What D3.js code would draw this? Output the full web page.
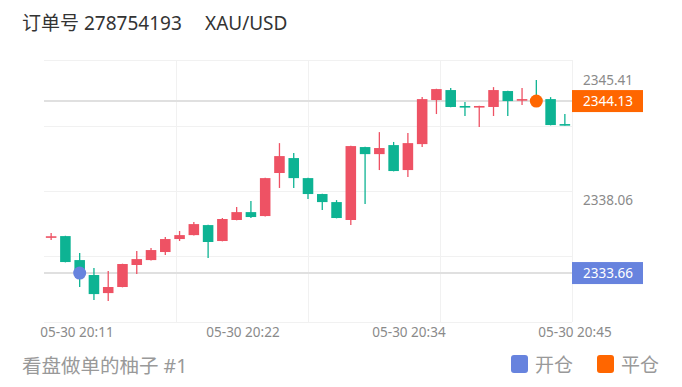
<!DOCTYPE html>
<html lang="zh">
<head>
<meta charset="UTF-8">
<title>XAU/USD</title>
<style>
  body { margin: 0; background: #fff; }
  svg text { font-family: "Noto Sans", "Noto Sans CJK SC", sans-serif; }
</style>
</head>
<body>
<svg id="chart" width="682" height="387"></svg>
<script src="https://d3js.org/d3.v7.min.js"></script>
<script>
// one-minute candles, 05-30 20:09 .. 20:45
var times = ["20:09","20:10","20:11","20:12","20:13","20:14","20:15","20:16","20:17","20:18",
             "20:19","20:20","20:21","20:22","20:23","20:24","20:25","20:26","20:27","20:28",
             "20:29","20:30","20:31","20:32","20:33","20:34","20:35","20:36","20:37","20:38",
             "20:39","20:40","20:41","20:42","20:43","20:44","20:45"];
var open  = [2335.87,2335.91,2334.45,2333.54,2332.44,2332.81,2334.15,2334.45,2334.94,2335.73,
             2335.97,2336.58,2335.61,2336.89,2337.37,2337.13,2339.75,2340.66,2339.44,2338.47,
             2337.98,2336.89,2341.33,2340.90,2341.45,2339.93,2341.51,2344.19,2344.80,2343.83,
             2343.80,2343.77,2344.74,2344.22,2344.25,2344.25,2342.73];
var close = [2335.90,2334.33,2333.54,2332.38,2332.81,2334.21,2334.51,2335.06,2335.73,2335.97,
             2336.64,2335.55,2336.95,2337.37,2337.07,2339.44,2340.78,2339.44,2338.47,2337.98,
             2337.01,2341.39,2340.90,2341.27,2339.87,2341.57,2344.25,2344.86,2343.77,2343.77,
             2343.83,2344.80,2344.13,2344.25,2344.08,2342.67,2342.67];
var high  = [2336.10,2335.93,2334.88,2333.97,2333.78,2334.23,2335.00,2335.18,2335.85,2336.22,
             2336.77,2336.60,2337.01,2337.68,2338.04,2339.46,2341.57,2340.97,2339.46,2338.49,
             2338.10,2341.41,2341.35,2342.24,2341.64,2342.18,2344.37,2344.88,2344.92,2344.07,
             2343.85,2344.98,2344.76,2344.92,2345.41,2344.37,2343.34];
var low   = [2335.67,2334.31,2332.81,2332.02,2331.96,2332.79,2333.60,2334.43,2334.76,2335.61,
             2335.95,2334.57,2335.59,2336.87,2337.01,2337.11,2338.84,2338.84,2338.17,2337.50,
             2336.99,2336.58,2337.86,2339.93,2339.85,2339.50,2341.33,2343.34,2343.75,2343.22,
             2342.55,2343.22,2343.22,2343.89,2343.90,2342.65,2342.65];

var xLabels = ["05-30 20:11","05-30 20:22","05-30 20:34","05-30 20:45"];
var yTicks = [2345.41, 2338.06];

var markerNames = ["开仓","平仓"];
var markerTimes = ["20:11","20:43"];
var markerPrices = [2333.66, 2344.13];
var markerColors = ["#6783de","#ff6600"];

var upColor = "#ee5264", downColor = "#0db393";

(function chart() {
  var svg = d3.select("#chart");
  var pl = 44, pr = 572, pt = 60, pb = 322;

  var x = d3.scaleBand().domain(times).range([pl, pr]);
  var y = d3.scaleLinear().domain([2330.68, 2346.63]).range([pb, pt]);
  var xl = d3.scalePoint().domain(xLabels).range([77, 575]);
  var dom = y.domain();

  // grid
  svg.append("g").selectAll("line")
      .data(d3.range(5))
      .enter().append("line")
      .attr("x1", pl).attr("x2", pr)
      .attr("y1", function(d) { return Math.round(y(dom[0] + d * (dom[1] - dom[0]) / 4)) + 0.5; })
      .attr("y2", function(d) { return Math.round(y(dom[0] + d * (dom[1] - dom[0]) / 4)) + 0.5; })
      .attr("stroke", "#f1f1f1");
  svg.append("g").selectAll("line")
      .data(d3.range(1, 5))
      .enter().append("line")
      .attr("x1", function(d) { return Math.round(pl + d * (pr - pl) / 4) + 0.5; })
      .attr("x2", function(d) { return Math.round(pl + d * (pr - pl) / 4) + 0.5; })
      .attr("y1", pt).attr("y2", pb)
      .attr("stroke", "#f1f1f1");

  // price lines for open / close
  svg.append("g").selectAll("line")
      .data(markerPrices)
      .enter().append("line")
      .attr("x1", pl).attr("x2", pr)
      .attr("y1", function(d) { return y(d); })
      .attr("y2", function(d) { return y(d); })
      .attr("stroke", "#e0e0e0")
      .attr("stroke-width", 2);

  // candles
  var bw = x.bandwidth() * 0.74;
  var candle = svg.append("g").selectAll("g")
      .data(times)
      .enter().append("g")
      .attr("transform", function(d) { return "translate(" + (x(d) + x.bandwidth() / 2) + ",0)"; });

  function col(i) { return close[i] >= open[i] ? upColor : downColor; }

  candle.append("line")
      .attr("x1", 0).attr("x2", 0)
      .attr("y1", function(d, i) { return y(high[i]); })
      .attr("y2", function(d, i) { return y(low[i]); })
      .attr("stroke", function(d, i) { return col(i); })
      .attr("stroke-width", 1.3);

  candle.append("rect")
      .attr("x", -bw / 2)
      .attr("width", bw)
      .attr("y", function(d, i) { return y(Math.max(open[i], close[i])); })
      .attr("height", function(d, i) { return Math.max(1.6, Math.abs(y(open[i]) - y(close[i]))); })
      .attr("fill", function(d, i) { return col(i); });

  // trade markers
  svg.append("g").selectAll("circle")
      .data(markerPrices)
      .enter().append("circle")
      .attr("cx", function(d, i) { return x(markerTimes[i]) + x.bandwidth() / 2; })
      .attr("cy", function(d) { return y(d); })
      .attr("r", 6.5)
      .attr("fill", function(d, i) { return markerColors[i]; });

  // y axis labels
  svg.append("g").selectAll("text")
      .data(yTicks)
      .enter().append("text")
      .attr("x", 583)
      .attr("y", function(d) { return y(d); })
      .attr("dy", "0.35em")
      .attr("font-size", 13.5)
      .attr("fill", "#8a8a8a")
      .text(function(d) { return d.toFixed(2); });

  var tag = svg.append("g").selectAll("g")
      .data(markerPrices)
      .enter().append("g")
      .attr("transform", function(d) { return "translate(572," + y(d) + ")"; });
  tag.append("rect")
      .attr("x", 0).attr("y", -11)
      .attr("width", 71).attr("height", 22)
      .attr("fill", function(d, i) { return markerColors[i]; });
  tag.append("text")
      .attr("x", 11)
      .attr("dy", "0.35em")
      .attr("font-size", 13.5)
      .attr("fill", "#fff")
      .text(function(d) { return d.toFixed(2); });

  // x axis labels
  svg.append("g").selectAll("text")
      .data(xLabels)
      .enter().append("text")
      .attr("x", function(d) { return xl(d); })
      .attr("y", 337)
      .attr("text-anchor", "middle")
      .attr("font-size", 13.5)
      .attr("fill", "#8a8a8a")
      .text(function(d) { return d; });

  // title
  svg.append("text")
      .attr("x", 22).attr("y", 30)
      .attr("font-size", 19)
      .attr("fill", "#333")
      .text("订单号 278754193");
  svg.append("text")
      .attr("x", 205).attr("y", 30)
      .attr("font-size", 19)
      .attr("fill", "#333")
      .text("XAU/USD");

  // footer
  svg.append("text")
      .attr("x", 22).attr("y", 373)
      .attr("font-size", 19.5)
      .attr("fill", "#999")
      .text("看盘做单的柚子 #1");

  var legend = svg.append("g").selectAll("g")
      .data(markerNames)
      .enter().append("g")
      .attr("transform", function(d, i) { return "translate(" + (511 + i * 86) + ",355)"; });
  legend.append("rect")
      .attr("width", 17).attr("height", 18).attr("rx", 3)
      .attr("fill", function(d, i) { return markerColors[i]; });
  legend.append("text")
      .attr("x", 24).attr("y", 17)
      .attr("font-size", 19)
      .attr("fill", "#999")
      .text(function(d) { return d; });
})();
</script>
</body>
</html>
